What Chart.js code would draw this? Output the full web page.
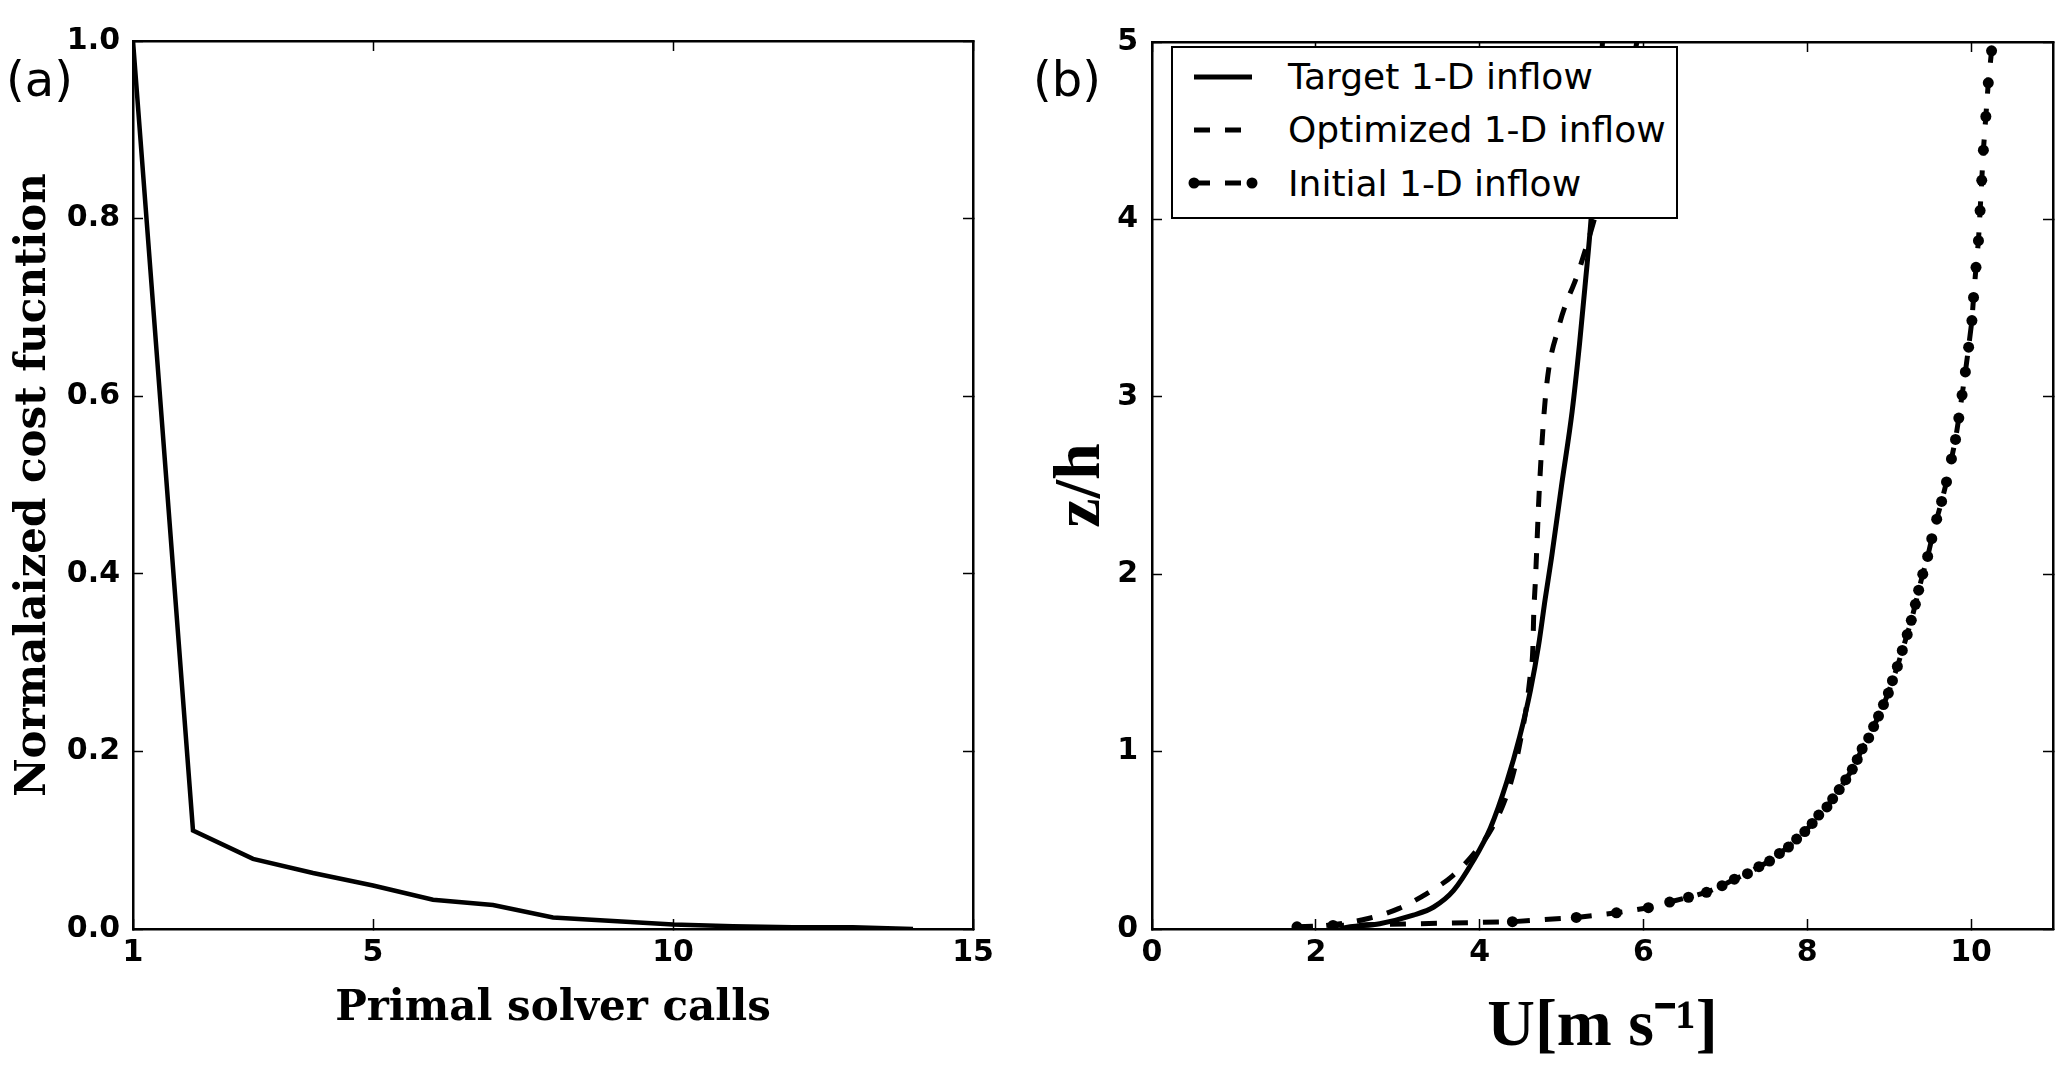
<!DOCTYPE html>
<html>
<head>
<meta charset="utf-8">
<script src="https://cdn.jsdelivr.net/npm/chart.js@4.4.1/dist/chart.umd.min.js"></script>
<style>
  html, body { margin: 0; padding: 0; background: #fff; }
  body { width: 2067px; height: 1070px; position: relative; overflow: hidden; }
  #boxA { position: absolute; left: 0; top: 0; }
  #boxB { position: absolute; left: 1030px; top: 0; }
  .panel { position: absolute; font-family: "DejaVu Sans", sans-serif; font-size: 48px; line-height: 48px; color: #000; }
  #legendB {
    position: absolute; left: 1171px; top: 46px; width: 503px; height: 167px;
    border: 2px solid #000; background: #fff; padding-top: 2px; box-sizing: content-box;
    font-family: "DejaVu Sans", sans-serif; font-size: 36px; color: #000;
  }
  .leg-row { height: 53.3px; display: flex; align-items: center; white-space: nowrap; }
  .leg-row svg { margin-left: 15px; margin-right: 30px; flex: none; }
</style>
</head>
<body>
<div id="boxA"><canvas id="chartA" width="1030" height="1070"></canvas></div>
<div id="boxB"><canvas id="chartB" width="1037" height="1070"></canvas></div>
<div class="panel" style="left:6px; top:55px;">(a)</div>
<div class="panel" style="left:1033px; top:55px;">(b)</div>
<div id="legendB"></div>

<script>
// (a) cost function vs. primal solver calls
const callsA = [1, 2, 3, 4, 5, 6, 7, 8, 9, 10, 11, 12, 13, 14];
const costA = [1.0, 0.111, 0.079, 0.063, 0.049, 0.033, 0.027, 0.013, 0.009, 0.005, 0.003, 0.002, 0.002, 0.0];
const xTicksA = [1, 5, 10, 15];
const yTicksA = [0, 0.2, 0.4, 0.6, 0.8, 1.0];

// (b) inflow profiles, U [m/s] vs z/h
const uTarget = [2.30, 2.42, 2.78, 3.19, 3.44, 3.68, 3.92, 4.13, 4.33, 4.49, 4.62, 4.72, 4.80, 4.88, 5.00, 5.13, 5.22, 5.29, 5.36, 5.43, 5.50];
const zTarget = [0.003, 0.013, 0.03, 0.078, 0.124, 0.216, 0.383, 0.568, 0.827, 1.086, 1.345, 1.60, 1.86, 2.10, 2.50, 2.92, 3.30, 3.64, 4.00, 4.50, 5.00];

const uOptim = [1.75, 2.17, 2.64, 3.01, 3.35, 3.67, 3.92, 4.15, 4.33, 4.43, 4.50, 4.57, 4.62, 4.65, 4.66, 4.68, 4.73, 4.81, 4.97, 5.21, 5.40, 5.57, 5.74, 5.92];
const zOptim = [0.008, 0.022, 0.059, 0.115, 0.198, 0.30, 0.42, 0.568, 0.753, 0.91, 1.067, 1.25, 1.44, 1.585, 1.77, 1.955, 2.49, 3.03, 3.40, 3.71, 4.0, 4.3, 4.6, 5.0];

const uInit = [1.77, 2.21, 4.40, 5.18, 5.67, 6.06, 6.32, 6.55, 6.77, 6.96, 7.11, 7.27, 7.41, 7.54, 7.66, 7.77, 7.87, 7.97, 8.06, 8.14,
  8.24, 8.31, 8.39, 8.47, 8.55, 8.61, 8.67, 8.75, 8.81, 8.87, 8.93, 8.99, 9.04, 9.10, 9.16, 9.22, 9.27, 9.32, 9.36, 9.41,
  9.47, 9.52, 9.58, 9.64, 9.70, 9.76, 9.81, 9.85, 9.89, 9.93, 9.97, 10.01, 10.03, 10.06, 10.09, 10.11, 10.13, 10.15, 10.18, 10.21, 10.25];
const zInit = [0.012, 0.02, 0.041, 0.065, 0.091, 0.12, 0.152, 0.179, 0.207, 0.244, 0.281, 0.312, 0.351, 0.383, 0.426, 0.462, 0.507, 0.549, 0.595, 0.642,
  0.688, 0.734, 0.786, 0.842, 0.90, 0.956, 1.016, 1.077, 1.141, 1.20, 1.265, 1.33, 1.40, 1.48, 1.57, 1.66, 1.74, 1.83, 1.91, 2.00,
  2.10, 2.20, 2.31, 2.41, 2.52, 2.65, 2.76, 2.88, 3.01, 3.14, 3.28, 3.43, 3.56, 3.73, 3.88, 4.05, 4.22, 4.39, 4.58, 4.77, 4.95];
const xTicksB = [0, 2, 4, 6, 8, 10];
const yTicksB = [0, 1, 2, 3, 4, 5];

const pts = (xs, ys) => xs.map((x, i) => ({ x, y: ys[i] }));

Chart.defaults.color = '#000';

const tickFont = { family: '"DejaVu Sans", sans-serif', size: 30, weight: 'bold' };
const serifTitle = { family: '"DejaVu Serif", serif', size: 42, weight: 'bold' };
const mathTitle = { family: '"Liberation Serif", serif', size: 66, weight: 'bold' };

// matplotlib-like frame: ticks point inward, on all four sides
const grid = { drawOnChartArea: false, drawTicks: true, tickLength: -10, tickWidth: 1.5, tickColor: '#000' };
const border = { display: true, color: '#000', width: 2.5 };

function setTicks(list) {
  return axis => { axis.ticks = list.map(v => ({ value: v })); };
}

function frameScales(o) {
  return {
    x: {
      type: 'linear', position: 'bottom', min: o.xmin, max: o.xmax,
      afterBuildTicks: setTicks(o.xticks), afterFit: s => { s.height = o.xh; },
      grid, border,
      ticks: { font: tickFont, color: '#000', padding: 16, autoSkip: false, maxRotation: 0, callback: o.xfmt },
      title: { display: true, text: o.xtitle, font: o.xfont, color: '#000', padding: { top: 0, bottom: o.xtpad } }
    },
    x2: {
      type: 'linear', position: 'top', min: o.xmin, max: o.xmax,
      afterBuildTicks: setTicks(o.xticks), afterFit: s => { s.height = 0; },
      grid, border, ticks: { display: false }
    },
    y: {
      type: 'linear', position: 'left', min: o.ymin, max: o.ymax,
      afterBuildTicks: setTicks(o.yticks), afterFit: s => { s.width = o.yw; },
      grid, border,
      ticks: { font: tickFont, color: '#000', padding: o.ypad, autoSkip: false, callback: o.yfmt },
      title: { display: true, text: o.ytitle, font: o.yfont, color: '#000', padding: { top: o.ytpad, bottom: 0 } }
    },
    y2: {
      type: 'linear', position: 'right', min: o.ymin, max: o.ymax,
      afterBuildTicks: setTicks(o.yticks), afterFit: s => { s.width = 0; },
      grid, border, ticks: { display: false }
    }
  };
}

new Chart(document.getElementById('chartA'), {
  type: 'line',
  data: {
    datasets: [{
      label: 'Cost function',
      data: pts(callsA, costA),
      borderColor: '#000', borderWidth: 4.5, pointRadius: 0, tension: 0, fill: false
    }]
  },
  options: {
    responsive: false, animation: false, devicePixelRatio: 1, events: [],
    layout: { padding: { left: 0, top: 28, right: 57, bottom: 0 } },
    plugins: { legend: { display: false }, tooltip: { enabled: false } },
    scales: frameScales({
      xmin: 1, xmax: 15, xticks: xTicksA, xfmt: v => String(v), xh: 141,
      xtitle: 'Primal solver calls', xfont: serifTitle, xtpad: 36,
      ymin: 0, ymax: 1, yticks: yTicksA, yfmt: v => v.toFixed(1), yw: 133, ypad: 23,
      ytitle: 'Normalaized cost fucntion', yfont: serifTitle, ytpad: 9
    })
  }
});

// legend for (b) built from the dataset styles, drawn above the plot like matplotlib's boxed legend
const htmlLegend = {
  id: 'htmlLegend',
  afterUpdate(chart) {
    const box = document.getElementById('legendB');
    box.innerHTML = '';
    chart.data.datasets.forEach(ds => {
      const row = document.createElement('div');
      row.className = 'leg-row';
      const dash = (ds.borderDash || []).join(' ');
      let svg = '<svg width="70" height="20" viewBox="0 0 70 20">' +
        '<line x1="6" y1="10" x2="64" y2="10" stroke="#000" stroke-width="' + ds.borderWidth + '" stroke-dasharray="' + dash + '"/>';
      if (ds.pointRadius > 0) {
        svg += '<circle cx="6" cy="10" r="' + ds.pointRadius + '" fill="#000"/><circle cx="64" cy="10" r="' + ds.pointRadius + '" fill="#000"/>';
      }
      svg += '</svg>';
      row.innerHTML = svg + '<span>' + ds.label + '</span>';
      box.appendChild(row);
    });
  }
};

new Chart(document.getElementById('chartB'), {
  type: 'line',
  data: {
    datasets: [
      {
        label: 'Target 1-D inflow', data: pts(uTarget, zTarget),
        borderColor: '#000', borderWidth: 5, pointRadius: 0, cubicInterpolationMode: 'monotone', fill: false
      },
      {
        label: 'Optimized 1-D inflow', data: pts(uOptim, zOptim),
        borderColor: '#000', borderWidth: 5, borderDash: [16, 15], pointRadius: 0, cubicInterpolationMode: 'monotone', fill: false
      },
      {
        label: 'Initial 1-D inflow', data: pts(uInit, zInit),
        borderColor: '#000', borderWidth: 5, borderDash: [16, 15], tension: 0, fill: false,
        pointRadius: 5.5, pointBackgroundColor: '#000', pointBorderWidth: 0
      }
    ]
  },
  options: {
    responsive: false, animation: false, devicePixelRatio: 1, events: [],
    layout: { padding: { left: 0, top: 28, right: 14, bottom: 0 } },
    plugins: { legend: { display: false }, tooltip: { enabled: false } },
    scales: frameScales({
      xmin: 0, xmax: 11, xticks: xTicksB, xfmt: v => String(v), xh: 141,
      xtitle: 'U[m s\u207B\u00B9]', xfont: mathTitle, xtpad: 2,
      ymin: 0, ymax: 5, yticks: yTicksB, yfmt: v => String(v), yw: 122, ypad: 24,
      ytitle: 'z/h', yfont: mathTitle, ytpad: 12
    })
  },
  plugins: [htmlLegend]
});
</script>
</body>
</html>
